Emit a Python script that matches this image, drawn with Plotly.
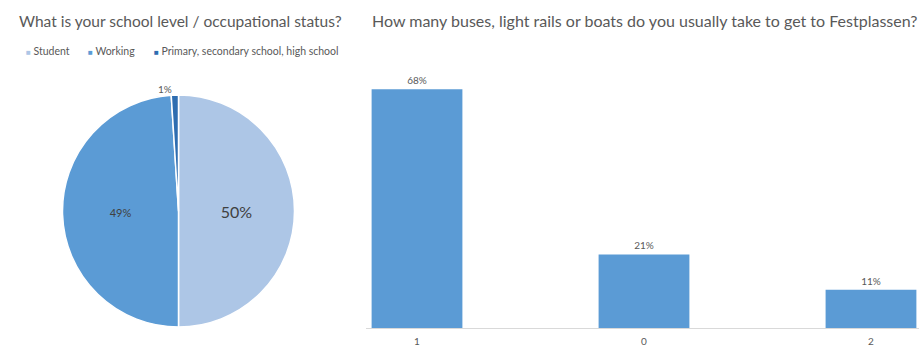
import plotly.graph_objects as go

# ---- data ----
pie_labels = ["Student", "Working", "Primary, secondary school, high school"]
pie_values = [50, 49, 1]
pie_colors = ["#ADC6E6", "#5B9BD5", "#2E6DB0"]

bar_categories = ["1", "0", "2"]
bar_values = [68, 21, 11]
bar_color = "#5B9BD5"

title_left = "What is your school level / occupational status?"
title_right = "How many buses, light rails or boats do you usually take to get to Festplassen?"

W, H = 919, 347
FONT = "Lato, Calibri, sans-serif"
GREY = "#595959"


def px(x):
    return x / W


def py(y):
    return 1 - y / H


fig = go.Figure()

fig.add_trace(go.Pie(
    labels=pie_labels, values=pie_values, sort=False,
    direction="clockwise", rotation=0,
    marker=dict(colors=pie_colors, line=dict(color="white", width=1.5)),
    texttemplate="%{percent:.0%}",
    textposition=["inside", "inside", "outside"],
    textfont=dict(size=[16, 11, 10], color=["#404040", "#404040", GREY], family=FONT),
    insidetextorientation="horizontal",
    domain=dict(x=[px(62), px(295)], y=[py(327), py(95)]),
    showlegend=False,
))

fig.add_trace(go.Bar(
    x=bar_categories, y=bar_values, width=0.4,
    marker=dict(color=bar_color, line=dict(width=0)),
    texttemplate="%{y}%", textposition="outside",
    textfont=dict(size=10, color=GREY, family=FONT),
    cliponaxis=False, showlegend=False,
))

annotations = [
    dict(text=title_left, x=px(180), y=py(21), xref="paper", yref="paper",
         xanchor="center", yanchor="middle", showarrow=False,
         font=dict(size=15.5, color=GREY, family=FONT)),
    dict(text=title_right, x=px(644), y=py(21), xref="paper", yref="paper",
         xanchor="center", yanchor="middle", showarrow=False,
         font=dict(size=16, color=GREY, family=FONT)),
]

legend_x = [24, 86, 152]
for lab, col, lx in zip(pie_labels, pie_colors, legend_x):
    annotations.append(dict(
        text=f"<span style='color:{col};font-size:8px'>■</span> {lab}",
        x=px(lx), y=py(51), xref="paper", yref="paper",
        xanchor="left", yanchor="middle", showarrow=False,
        font=dict(size=10.5, color=GREY, family=FONT)))

fig.update_layout(
    width=W, height=H,
    margin=dict(l=0, r=0, t=0, b=0),
    paper_bgcolor="white", plot_bgcolor="white",
    font=dict(family=FONT, color=GREY),
    xaxis=dict(domain=[px(366), 1], range=[-0.2247, 2.2115], type="category",
               showline=True, linecolor="#D9D9D9", linewidth=1,
               ticks="", showgrid=False, zeroline=False, ticklabelstandoff=4,
               tickfont=dict(size=10, color=GREY, family=FONT)),
    yaxis=dict(domain=[py(328.3), py(60)], range=[0, 76.33], visible=False),
    annotations=annotations,
    bargap=0.6,
)

fig.write_html("out.html")
